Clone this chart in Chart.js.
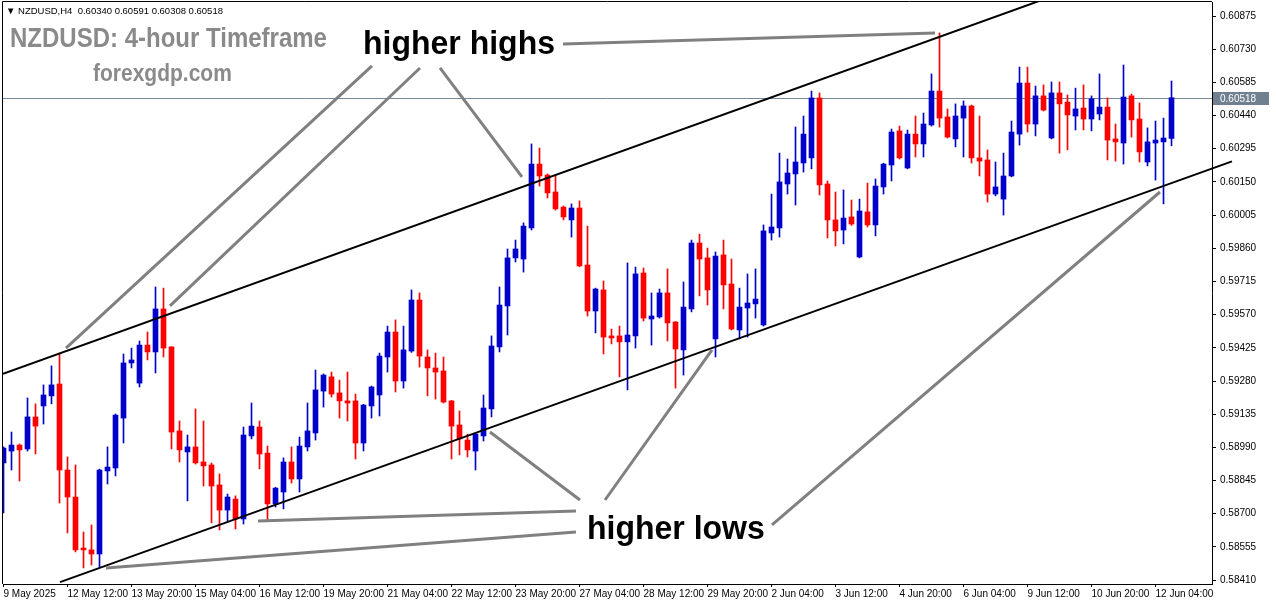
<!DOCTYPE html>
<html>
<head>
<meta charset="utf-8">
<script src="https://cdn.jsdelivr.net/npm/chart.js@4.4.0/dist/chart.umd.min.js"></script>
<style>
  body { margin: 0; background: #fff; }
  #wrap { position: relative; width: 1276px; height: 604px; }
  .t { position: absolute; white-space: pre; font-family: "Liberation Sans", Arial, sans-serif; transform-origin: 0 0; }
</style>
</head>
<body>
<div id="wrap">
  <canvas id="priceChart"></canvas>
  <div class="t" style="left:6px;top:5px;font-size:9.5px;line-height:12px;color:#000;">▼ NZDUSD,H4  0.60340 0.60591 0.60308 0.60518</div>
  <div class="t" style="left:10px;top:23px;font-size:24px;line-height:24px;font-weight:bold;color:#8a8a8a;transform:scale(1,1.18);">NZDUSD: 4-hour Timeframe</div>
  <div class="t" style="left:93px;top:61px;font-size:21px;line-height:21px;font-weight:bold;color:#8a8a8a;transform:scale(1,1.12);">forexgdp.com</div>
  <div class="t" style="left:363px;top:25px;font-size:32px;line-height:32px;font-weight:bold;color:#000;transform:scale(1,1.06);">higher highs</div>
  <div class="t" style="left:587px;top:510px;font-size:32px;line-height:32px;font-weight:bold;color:#000;transform:scale(1,1.06);">higher lows</div>
</div>
<script>
// H4 candles, 9 May 04:00 .. 12 Jun 12:00
const opens = [
  0.58922, 0.58974, 0.59000, 0.58983, 0.59123, 0.59171, 0.59215, 0.59267, 0.58891, 0.58773,
  0.58550, 0.58542, 0.58524, 0.58887, 0.58900, 0.59118, 0.59359, 0.59271, 0.59437, 0.59407,
  0.59595, 0.59429, 0.59062, 0.58970, 0.58992, 0.58926, 0.58913, 0.58826, 0.58716, 0.58764,
  0.58677, 0.59040, 0.59079, 0.58965, 0.58743, 0.58795, 0.58926, 0.58852, 0.58992, 0.59053,
  0.59236, 0.59298, 0.59228, 0.59193, 0.59193, 0.59009, 0.59171, 0.59219, 0.59385, 0.59494,
  0.59280, 0.59411, 0.59634, 0.59385, 0.59337, 0.59324, 0.59193, 0.59088, 0.59022, 0.58974,
  0.59040, 0.59158, 0.59429, 0.59608, 0.59818, 0.59813, 0.59949, 0.60228, 0.60180, 0.60106,
  0.60040, 0.59984, 0.60036, 0.59787, 0.59586, 0.59678, 0.59477, 0.59477, 0.59451, 0.59477,
  0.59752, 0.59551, 0.59560, 0.59665, 0.59538, 0.59416, 0.59595, 0.59883, 0.59818, 0.59464,
  0.59831, 0.59704, 0.59503, 0.59599, 0.59617, 0.59525, 0.59927, 0.59949, 0.60141, 0.60185,
  0.60233, 0.60255, 0.60517, 0.60141, 0.59984, 0.59940, 0.59997, 0.59822, 0.60019, 0.59962,
  0.60128, 0.60224, 0.60373, 0.60211, 0.60359, 0.60316, 0.60399, 0.60547, 0.60434, 0.60338,
  0.60429, 0.60482, 0.60255, 0.60246, 0.60097, 0.60075, 0.60176, 0.60359, 0.60582, 0.60403,
  0.60526, 0.60342, 0.60539, 0.60499, 0.60438, 0.60473, 0.60425, 0.60447, 0.60477, 0.60338,
  0.60320, 0.60526, 0.60425, 0.60237, 0.60320, 0.60325, 0.60340
];
const highs = [
  0.58992, 0.59057, 0.59005, 0.59206, 0.59180, 0.59263, 0.59346, 0.59402, 0.58948, 0.58913,
  0.58620, 0.58651, 0.58895, 0.58992, 0.59136, 0.59398, 0.59424, 0.59455, 0.59494, 0.59691,
  0.59686, 0.59430, 0.59105, 0.59044, 0.59158, 0.59105, 0.58922, 0.58874, 0.58786, 0.58778,
  0.59079, 0.59184, 0.59105, 0.58996, 0.58815, 0.58944, 0.58992, 0.59035, 0.59184, 0.59328,
  0.59311, 0.59319, 0.59284, 0.59319, 0.59223, 0.59178, 0.59258, 0.59402, 0.59520, 0.59547,
  0.59520, 0.59678, 0.59665, 0.59416, 0.59402, 0.59385, 0.59195, 0.59149, 0.59048, 0.59050,
  0.59219, 0.59477, 0.59691, 0.59857, 0.59896, 0.59971, 0.60316, 0.60298, 0.60185, 0.60176,
  0.60045, 0.60054, 0.60067, 0.59957, 0.59686, 0.59717, 0.59507, 0.59520, 0.59796, 0.59778,
  0.59774, 0.59665, 0.59682, 0.59770, 0.59540, 0.59713, 0.59896, 0.59922, 0.59861, 0.59844,
  0.59896, 0.59813, 0.59686, 0.59748, 0.59770, 0.59962, 0.60097, 0.60276, 0.60250, 0.60390,
  0.60438, 0.60547, 0.60539, 0.60154, 0.60106, 0.60115, 0.60071, 0.60075, 0.60145, 0.60163,
  0.60232, 0.60381, 0.60394, 0.60377, 0.60438, 0.60451, 0.60622, 0.60801, 0.60469, 0.60491,
  0.60504, 0.60486, 0.60438, 0.60290, 0.60237, 0.60276, 0.60416, 0.60652, 0.60652, 0.60569,
  0.60574, 0.60587, 0.60587, 0.60530, 0.60560, 0.60574, 0.60526, 0.60622, 0.60517, 0.60403,
  0.60661, 0.60534, 0.60495, 0.60386, 0.60416, 0.60429, 0.60591
];
const lows = [
  0.58703, 0.58891, 0.58843, 0.58974, 0.58961, 0.59092, 0.59180, 0.58747, 0.58616, 0.58533,
  0.58463, 0.58476, 0.58467, 0.58830, 0.58865, 0.59009, 0.59337, 0.59254, 0.59372, 0.59315,
  0.59385, 0.58983, 0.58926, 0.58756, 0.58917, 0.58821, 0.58660, 0.58629, 0.58668, 0.58633,
  0.58655, 0.59027, 0.58896, 0.58673, 0.58729, 0.58721, 0.58834, 0.58795, 0.58974, 0.59022,
  0.59166, 0.59210, 0.59118, 0.59105, 0.58939, 0.58974, 0.59118, 0.59127, 0.59319, 0.59232,
  0.59249, 0.59405, 0.59341, 0.59215, 0.59201, 0.59184, 0.58939, 0.58957, 0.58948, 0.58891,
  0.59018, 0.59123, 0.59407, 0.59481, 0.59800, 0.59756, 0.59940, 0.60132, 0.60080, 0.60027,
  0.59984, 0.59909, 0.59779, 0.59564, 0.59490, 0.59398, 0.59442, 0.59298, 0.59241, 0.59424,
  0.59542, 0.59437, 0.59555, 0.59455, 0.59249, 0.59306, 0.59582, 0.59652, 0.59612, 0.59385,
  0.59595, 0.59503, 0.59464, 0.59472, 0.59555, 0.59520, 0.59896, 0.59909, 0.60097, 0.60049,
  0.60193, 0.60207, 0.60093, 0.59905, 0.59870, 0.59879, 0.59960, 0.59818, 0.59953, 0.59914,
  0.60097, 0.60154, 0.60250, 0.60207, 0.60259, 0.60259, 0.60394, 0.60390, 0.60342, 0.60303,
  0.60259, 0.60233, 0.60176, 0.60062, 0.60089, 0.60005, 0.60172, 0.60311, 0.60368, 0.60351,
  0.60460, 0.60338, 0.60276, 0.60290, 0.60377, 0.60377, 0.60373, 0.60421, 0.60246, 0.60241,
  0.60228, 0.60346, 0.60237, 0.60220, 0.60158, 0.60054, 0.60308
];
const closes = [
  0.58987, 0.59000, 0.58979, 0.59123, 0.59083, 0.59219, 0.59263, 0.58891, 0.58773, 0.58542,
  0.58542, 0.58524, 0.58891, 0.58904, 0.59131, 0.59359, 0.59372, 0.59437, 0.59407, 0.59595,
  0.59424, 0.59057, 0.58979, 0.58992, 0.58922, 0.58909, 0.58821, 0.58716, 0.58773, 0.58677,
  0.59044, 0.59083, 0.58961, 0.58743, 0.58812, 0.58926, 0.58852, 0.58996, 0.59062, 0.59241,
  0.59306, 0.59223, 0.59193, 0.59184, 0.59009, 0.59175, 0.59254, 0.59389, 0.59494, 0.59280,
  0.59416, 0.59634, 0.59389, 0.59337, 0.59319, 0.59188, 0.59083, 0.59027, 0.58979, 0.59048,
  0.59162, 0.59433, 0.59612, 0.59818, 0.59857, 0.59957, 0.60228, 0.60176, 0.60102, 0.60032,
  0.59997, 0.60036, 0.59783, 0.59586, 0.59682, 0.59472, 0.59468, 0.59451, 0.59481, 0.59748,
  0.59555, 0.59564, 0.59665, 0.59534, 0.59420, 0.59603, 0.59883, 0.59813, 0.59678, 0.59826,
  0.59700, 0.59507, 0.59603, 0.59621, 0.59638, 0.59936, 0.59953, 0.60150, 0.60189, 0.60237,
  0.60359, 0.60517, 0.60137, 0.59984, 0.59936, 0.59992, 0.59966, 0.60023, 0.59962, 0.60132,
  0.60228, 0.60368, 0.60255, 0.60359, 0.60316, 0.60403, 0.60547, 0.60429, 0.60346, 0.60438,
  0.60482, 0.60255, 0.60241, 0.60097, 0.60128, 0.60176, 0.60368, 0.60582, 0.60403, 0.60526,
  0.60464, 0.60539, 0.60491, 0.60443, 0.60469, 0.60425, 0.60513, 0.60477, 0.60333, 0.60325,
  0.60521, 0.60421, 0.60281, 0.60325, 0.60333, 0.60342, 0.60518
];

const xTickLabels = ['9 May 2025', '12 May 12:00', '13 May 20:00', '15 May 04:00', '16 May 12:00',
  '19 May 20:00', '21 May 04:00', '22 May 12:00', '23 May 20:00', '27 May 04:00', '28 May 12:00',
  '29 May 20:00', '2 Jun 04:00', '3 Jun 12:00', '4 Jun 20:00', '6 Jun 04:00', '9 Jun 12:00',
  '10 Jun 20:00', '12 Jun 04:00'];
const yTickValues = [0.60875, 0.60730, 0.60585, 0.60440, 0.60295, 0.60150, 0.60005, 0.59860, 0.59715,
  0.59570, 0.59425, 0.59280, 0.59135, 0.58990, 0.58845, 0.58700, 0.58555, 0.58410];

// drawn objects, in (bar index, price)
const channelLines = [
  [[-0.0625, 0.59311], [129.56, 0.60942]],
  [[7.06, 0.58401], [153.56, 0.60240]]
];
const callouts = [
  [[46.06, 0.60657], [7.81, 0.59424]],
  [[52.06, 0.60648], [20.81, 0.59608]],
  [[54.56, 0.60648], [64.81, 0.60172]],
  [[69.94, 0.60753], [116.44, 0.60801]],
  [[72.06, 0.58760], [60.81, 0.59057]],
  [[75.19, 0.58760], [88.56, 0.59416]],
  [[71.56, 0.58712], [31.81, 0.58668]],
  [[71.56, 0.58620], [12.81, 0.58463]],
  [[96.06, 0.58651], [144.56, 0.60106]]
];

const BULL = '#0000cc';
const BEAR = '#ff0000';
const colors = opens.map((o, i) => closes[i] >= o ? BULL : BEAR);
const bodies = opens.map((o, i) => ({ x: i, y: [o, closes[i]] }));
const wicks = lows.map((l, i) => ({ x: i, y: [l, highs[i]] }));
const lastPrice = closes[closes.length - 1];

function seg(ctx, x, y, p) {
  ctx.beginPath();
  ctx.moveTo(x.getPixelForValue(p[0][0]), y.getPixelForValue(p[0][1]));
  ctx.lineTo(x.getPixelForValue(p[1][0]), y.getPixelForValue(p[1][1]));
  ctx.stroke();
}

const overlay = {
  id: 'overlay',
  beforeDatasetsDraw(chart) {
    const { ctx, chartArea: a, scales: { y } } = chart;
    const py = Math.round(y.getPixelForValue(lastPrice)) + 0.5;
    ctx.save();
    ctx.strokeStyle = '#778899';
    ctx.lineWidth = 1;
    ctx.beginPath();
    ctx.moveTo(a.left, py);
    ctx.lineTo(a.right, py);
    ctx.stroke();
    ctx.restore();
  },
  afterDatasetsDraw(chart) {
    const { ctx, chartArea: a, scales: { x, y } } = chart;
    ctx.save();
    // frame
    ctx.strokeStyle = '#000';
    ctx.lineWidth = 1;
    ctx.beginPath();
    ctx.moveTo(a.left - 0.5, a.bottom);
    ctx.lineTo(a.left - 0.5, a.top - 0.5);
    ctx.lineTo(a.right, a.top - 0.5);
    ctx.stroke();

    // channel
    ctx.save();
    ctx.beginPath();
    ctx.rect(a.left, a.top, a.right - a.left + 25, a.bottom - a.top);
    ctx.clip();
    ctx.lineWidth = 2;
    ctx.strokeStyle = '#000';
    channelLines.forEach(l => seg(ctx, x, y, l));
    ctx.restore();

    // pointers
    ctx.lineWidth = 3;
    ctx.strokeStyle = '#808080';
    callouts.forEach(l => seg(ctx, x, y, l));
    ctx.restore();
  },
  afterDraw(chart) {
    const { ctx, chartArea: a, scales: { y } } = chart;
    const py = Math.round(y.getPixelForValue(lastPrice));
    ctx.save();
    ctx.fillStyle = '#708090';
    ctx.fillRect(a.right + 1, py - 6, 56, 13);
    ctx.fillStyle = '#fff';
    ctx.font = '10px "Liberation Sans", Arial, sans-serif';
    ctx.textBaseline = 'middle';
    ctx.fillText(lastPrice.toFixed(5), a.right + 8, py + 1);
    ctx.restore();
  }
};

const tickFont = { family: '"Liberation Sans", Arial, sans-serif', size: 10 };

new Chart(document.getElementById('priceChart'), {
  type: 'bar',
  data: {
    datasets: [
      { data: bodies, backgroundColor: colors, barThickness: 5, grouped: false, minBarLength: 1, borderWidth: 0, order: 1 },
      { data: wicks, backgroundColor: colors, barThickness: 1, grouped: false, borderWidth: 0, order: 2 }
    ]
  },
  options: {
    responsive: true,
    maintainAspectRatio: false,
    animation: false,
    layout: { padding: { left: 3, top: 2, right: 0, bottom: 0 } },
    plugins: { legend: { display: false }, tooltip: { enabled: false } },
    scales: {
      x: {
        type: 'linear',
        offset: false,
        min: -0.0625,
        max: 151.0625,
        afterFit: s => { s.height = 20; s.paddingLeft = 0; s.paddingRight = 0; },
        afterBuildTicks: s => { s.ticks = xTickLabels.map((_, i) => ({ value: i * 8 })); },
        grid: { offset: false, drawOnChartArea: false, drawTicks: true, tickLength: 3, color: '#000' },
        border: { display: true, color: '#000' },
        ticks: {
          autoSkip: false, maxRotation: 0, align: 'start', padding: 1, color: '#000', font: tickFont,
          callback: v => xTickLabels[v / 8]
        }
      },
      y: {
        position: 'right',
        beginAtZero: false,
        min: 0.583929,
        max: 0.609363,
        afterFit: s => { s.width = 64; s.paddingTop = 0; s.paddingBottom = 0; },
        afterBuildTicks: s => { s.ticks = yTickValues.map(v => ({ value: v })); },
        grid: { drawOnChartArea: false, drawTicks: true, tickLength: 4, color: '#000' },
        border: { display: true, color: '#000' },
        ticks: { autoSkip: false, padding: 4, color: '#000', font: tickFont, callback: v => v.toFixed(5) }
      }
    }
  },
  plugins: [overlay]
});
</script>
</body>
</html>
